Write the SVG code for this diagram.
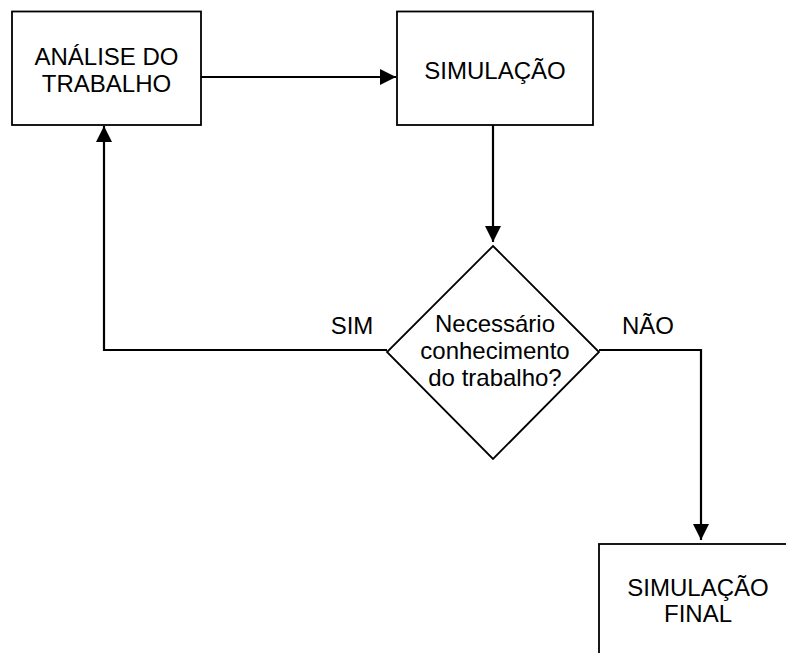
<svg xmlns="http://www.w3.org/2000/svg" width="786" height="653" viewBox="0 0 786 653">
<style>
.box{fill:#fff;stroke:#000;stroke-width:1.8}
.t{font-family:"Liberation Sans",Arial,sans-serif;font-size:24px;fill:#000;text-anchor:middle}
.c{fill:none;stroke:#000;stroke-width:2.2}
</style>
<defs>
<marker id="ah" markerWidth="16" markerHeight="16" refX="16" refY="8" orient="auto" markerUnits="userSpaceOnUse">
<path d="M0,0 L16,8 L0,16 Z" fill="#000"/>
</marker>
</defs>
<rect width="786" height="653" fill="#fff"/>
<g id="n1">
<rect class="box" x="12" y="11.5" width="189" height="113.5"/>
<text class="t" x="106.5" y="65">ANÁLISE DO</text>
<text class="t" x="106.5" y="92">TRABALHO</text>
</g>
<g id="n2">
<rect class="box" x="397" y="11.5" width="196" height="113.5"/>
<text class="t" x="495" y="79">SIMULAÇÃO</text>
</g>
<g id="n3">
<polygon class="box" points="493,246 599,352 493,459 387,352"/>
<text class="t" x="495" y="332">Necessário</text>
<text class="t" x="495" y="359">conhecimento</text>
<text class="t" x="495" y="386">do trabalho?</text>
</g>
<g id="n4">
<rect class="box" x="599" y="544" width="200" height="120"/>
<text class="t" x="698" y="596">SIMULAÇÃO</text>
<text class="t" x="698" y="622">FINAL</text>
</g>
<g id="connectors">
<path class="c" d="M201,77 L396,77" marker-end="url(#ah)"/>
<path class="c" d="M493,125 L493,242" marker-end="url(#ah)"/>
<path class="c" d="M387,350 L104,350 L104,126" marker-end="url(#ah)"/>
<path class="c" d="M599,350 L701,350 L701,540" marker-end="url(#ah)"/>
<text class="t" x="352" y="334">SIM</text>
<text class="t" x="648" y="334">NÃO</text>
</g>
</svg>
